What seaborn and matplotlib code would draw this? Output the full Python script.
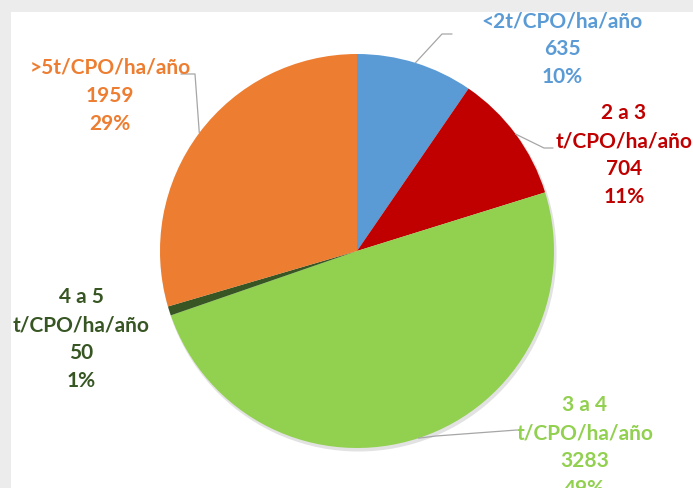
import numpy as np
import matplotlib
matplotlib.use("Agg")
import matplotlib.pyplot as plt
import seaborn as sns
from matplotlib.patches import Rectangle, Circle

sns.set_theme(style="white")
plt.rcParams['font.family'] = ['Lato', 'DejaVu Sans']

# ---- data ----
categories = ["<2t/CPO/ha/año", "2 a 3\nt/CPO/ha/año", "3 a 4\nt/CPO/ha/año",
              "4 a 5\nt/CPO/ha/año", ">5t/CPO/ha/año"]
values = [635, 704, 3283, 50, 1959]
pct_labels = ["10%", "11%", "49%", "1%", "29%"]
colors = ["#5B9BD5", "#C00000", "#92D050", "#375623", "#ED7D31"]

W, H = 693, 488
fig = plt.figure(figsize=(W / 100, H / 100), dpi=100, facecolor="#ececec")
ax = fig.add_axes([0, 0, 1, 1])
ax.set_facecolor("#ececec")

def py(y):  # pixel-from-top to data y
    return H - y

# white chart area
ax.add_patch(Rectangle((11, 0), W - 11, py(12), facecolor="white", edgecolor="none", zorder=0))

cx, cy, R = 357, py(251), 197
# soft shadow
ax.add_patch(Circle((cx + 1.5, cy - 2.5), R + 1, facecolor="#b8b8b8", edgecolor="none", alpha=0.4, zorder=1))
wedges, _ = ax.pie(values, colors=colors, startangle=90, counterclock=False,
                   center=(cx, cy), radius=R, wedgeprops=dict(linewidth=0, zorder=2),
                   frame=True)
for w in wedges:
    w.set_zorder(2)

ax.set_xlim(0, W)
ax.set_ylim(0, H)
ax.set_aspect("equal")
ax.axis("off")

# label placements (pixel positions: center x, first line y) and leader elbows
label_pos = [(562, 21), (624, 113), (585, 405), (81, 297), (110, 68)]
elbows = [[(442, 34), (452, 34)], [(544, 148), (553, 148)], [(436, 436), (517, 430)], None,
          [(195, 74), (181, 74)]]
step = 28
for i, (w, cat) in enumerate(zip(wedges, categories)):
    lines = cat.split("\n") + [str(values[i]), pct_labels[i]]
    x0, y0 = label_pos[i]
    for k, ln in enumerate(lines):
        ax.text(x0, py(y0 + k * step), ln, ha="center", va="center", color=colors[i],
                fontsize=15, fontweight="bold", zorder=5)
    if elbows[i] is not None:
        ang = np.deg2rad((w.theta1 + w.theta2) / 2)
        ex, ey = cx + R * np.cos(ang), cy + R * np.sin(ang)
        pts = [(ex, ey)] + [(px, py(pyy)) for px, pyy in elbows[i]]
        xs, ys = zip(*pts)
        ax.plot(xs, ys, color="#a6a6a6", lw=0.9, zorder=4)

fig.savefig("out.png", dpi=100, facecolor=fig.get_facecolor())
